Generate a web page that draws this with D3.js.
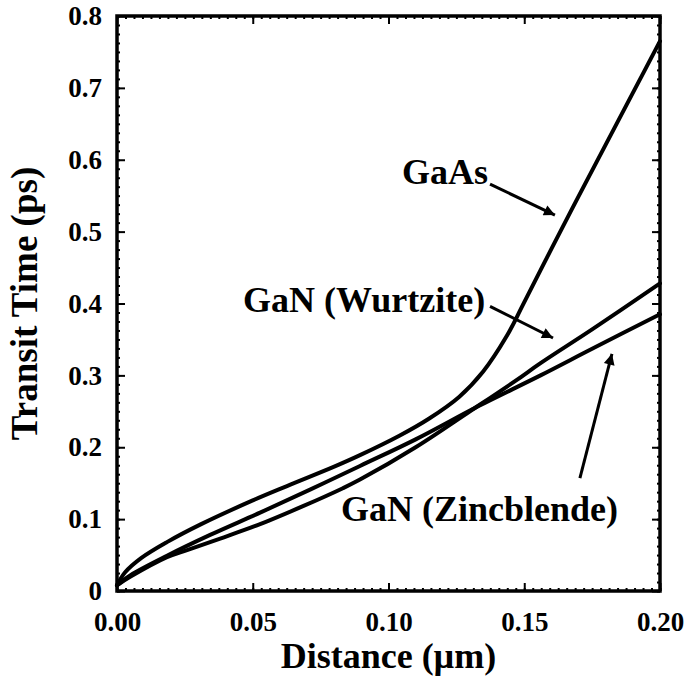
<!DOCTYPE html>
<html>
<head>
<meta charset="utf-8">
<script src="https://cdn.jsdelivr.net/npm/d3@7"></script>
<style>
  html, body { margin: 0; padding: 0; background: #fff; }
  svg { display: block; }
  text { font-family: "Liberation Serif", "Times New Roman", Times, serif; font-weight: bold; fill: #000; }
</style>
</head>
<body>
<svg id="chart" width="685" height="682"></svg>
<script>
// Transit time versus distance for electrons in GaAs and GaN (two phases)
const gaasDistance = [0, 0.003, 0.009, 0.0184, 0.031, 0.05, 0.0626, 0.08, 0.0895, 0.104, 0.115, 0.126, 0.1348, 0.1436, 0.1495, 0.16, 0.17, 0.18, 0.19, 0.2];
const gaasTime     = [0.008, 0.026, 0.046, 0.068, 0.093, 0.126, 0.146, 0.173, 0.189, 0.216, 0.240, 0.270, 0.305, 0.355, 0.398, 0.476, 0.549, 0.621, 0.693, 0.765];

const zincDistance = [0, 0.005, 0.0184, 0.0343, 0.0527, 0.0711, 0.0895, 0.11, 0.133, 0.156, 0.175, 0.2];
const zincTime     = [0.008, 0.022, 0.049, 0.078, 0.109, 0.141, 0.174, 0.211, 0.257, 0.300, 0.337, 0.385];

const wurtDistance = [0, 0.005, 0.0184, 0.0258, 0.038, 0.0527, 0.0685, 0.0832, 0.0895, 0.11, 0.13, 0.147, 0.156, 0.175, 0.2];
const wurtTime     = [0.008, 0.02, 0.047, 0.057, 0.073, 0.093, 0.118, 0.143, 0.155, 0.200, 0.250, 0.293, 0.317, 0.364, 0.428];

const xTickValues = [0, 0.05, 0.10, 0.15, 0.20];
const xTickLabels = ["0.00", "0.05", "0.10", "0.15", "0.20"];
const yTickValues = [0, 0.1, 0.2, 0.3, 0.4, 0.5, 0.6, 0.7, 0.8];
const yTickLabels = ["0", "0.1", "0.2", "0.3", "0.4", "0.5", "0.6", "0.7", "0.8"];

// Curve labels: text, anchor point (distance, time) of the text start
const labelNames = ["GaAs", "GaN (Wurtzite)", "GaN (Zincblende)"];
const labelAnchors = [[0.105, 0.566], [0.0464, 0.388], [0.0825, 0.0974]];
// Arrows: [tail, tip] in data units
const arrowLinks = [
  [[0.1374, 0.566], [0.1613, 0.523]],
  [[0.1374, 0.396], [0.1606, 0.352]],
  [[0.1705, 0.157], [0.1823, 0.330]]
];

const svg = d3.select("#chart");
const plotLeft = 117, plotRight = 660, plotTop = 16, plotBottom = 591;

const x = d3.scaleLinear().domain([0, 0.2]).range([plotLeft, plotRight]);
const y = d3.scaleLinear().domain([0, 0.8]).range([plotBottom, plotTop]);

const defs = svg.append("defs");
defs.append("marker")
  .attr("id", "head")
  .attr("viewBox", "0 0 10 10")
  .attr("refX", 10).attr("refY", 5)
  .attr("markerUnits", "userSpaceOnUse")
  .attr("markerWidth", 15).attr("markerHeight", 11)
  .attr("orient", "auto")
  .append("path").attr("d", "M0,0 L10,5 L0,10 Z").attr("fill", "#000");

// Minor ticks on all four sides
const xMinor = d3.range(0, 0.2 + 1e-9, 0.05 / 16);
const yMinor = d3.range(0, 0.8 + 1e-9, 0.0125);
function minorAxis(axis, vals) {
  return axis.tickValues(vals).tickSize(-3).tickFormat("");
}
svg.append("g").attr("transform", `translate(0,${plotBottom})`).call(minorAxis(d3.axisBottom(x), xMinor));
svg.append("g").attr("transform", `translate(0,${plotTop})`).call(minorAxis(d3.axisTop(x), xMinor));
svg.append("g").attr("transform", `translate(${plotLeft},0)`).call(minorAxis(d3.axisLeft(y), yMinor));
svg.append("g").attr("transform", `translate(${plotRight},0)`).call(minorAxis(d3.axisRight(y), yMinor));

// Major ticks
svg.append("g").attr("transform", `translate(0,${plotBottom})`)
  .call(d3.axisBottom(x).tickValues(xTickValues).tickSize(-8).tickPadding(21)
    .tickFormat((d, i) => xTickLabels[i]));
svg.append("g").attr("transform", `translate(0,${plotTop})`)
  .call(d3.axisTop(x).tickValues(xTickValues).tickSize(-8).tickFormat(""));
svg.append("g").attr("transform", `translate(${plotLeft},0)`)
  .call(d3.axisLeft(y).tickValues(yTickValues).tickSize(-8).tickPadding(15)
    .tickFormat((d, i) => yTickLabels[i]));
svg.append("g").attr("transform", `translate(${plotRight},0)`)
  .call(d3.axisRight(y).tickValues(yTickValues).tickSize(-8).tickFormat(""));

svg.selectAll(".domain").remove();
svg.selectAll(".tick line").attr("stroke", "#000").attr("stroke-width", 2);
svg.selectAll(".tick text").style("font-size", "27px")
  .style("font-family", '"Liberation Serif", "Times New Roman", serif').style("font-weight", "bold");

// Frame
svg.append("rect")
  .attr("x", plotLeft).attr("y", plotTop)
  .attr("width", plotRight - plotLeft).attr("height", plotBottom - plotTop)
  .attr("fill", "none").attr("stroke", "#000").attr("stroke-width", 3.5);

// Curves
const line = d3.line()
  .x(d => x(d[0])).y(d => y(d[1]))
  .curve(d3.curveCatmullRom.alpha(0.5));
const series = [
  d3.zip(gaasDistance, gaasTime),
  d3.zip(wurtDistance, wurtTime),
  d3.zip(zincDistance, zincTime)
];
svg.append("g").selectAll("path").data(series).join("path")
  .attr("d", line)
  .attr("fill", "none").attr("stroke", "#000")
  .attr("stroke-width", 4).attr("stroke-linejoin", "round").attr("stroke-linecap", "round");

// Labels and arrows
svg.append("g").selectAll("text").data(labelNames).join("text")
  .attr("x", (d, i) => x(labelAnchors[i][0]))
  .attr("y", (d, i) => y(labelAnchors[i][1]))
  .style("font-size", "36px")
  .text(d => d);

svg.append("g").selectAll("line").data(arrowLinks).join("line")
  .attr("x1", d => x(d[0][0])).attr("y1", d => y(d[0][1]))
  .attr("x2", d => x(d[1][0])).attr("y2", d => y(d[1][1]))
  .attr("stroke", "#000").attr("stroke-width", 3)
  .attr("marker-end", "url(#head)");

// Axis titles
svg.append("text")
  .attr("x", (plotLeft + plotRight) / 2).attr("y", 668)
  .attr("text-anchor", "middle")
  .style("font-size", "36px")
  .text("Distance (\u00b5m)");
svg.append("text")
  .attr("transform", `translate(37,${(plotTop + plotBottom) / 2}) rotate(-90)`)
  .attr("text-anchor", "middle")
  .style("font-size", "37px")
  .text("Transit Time (ps)");
</script>
</body>
</html>
